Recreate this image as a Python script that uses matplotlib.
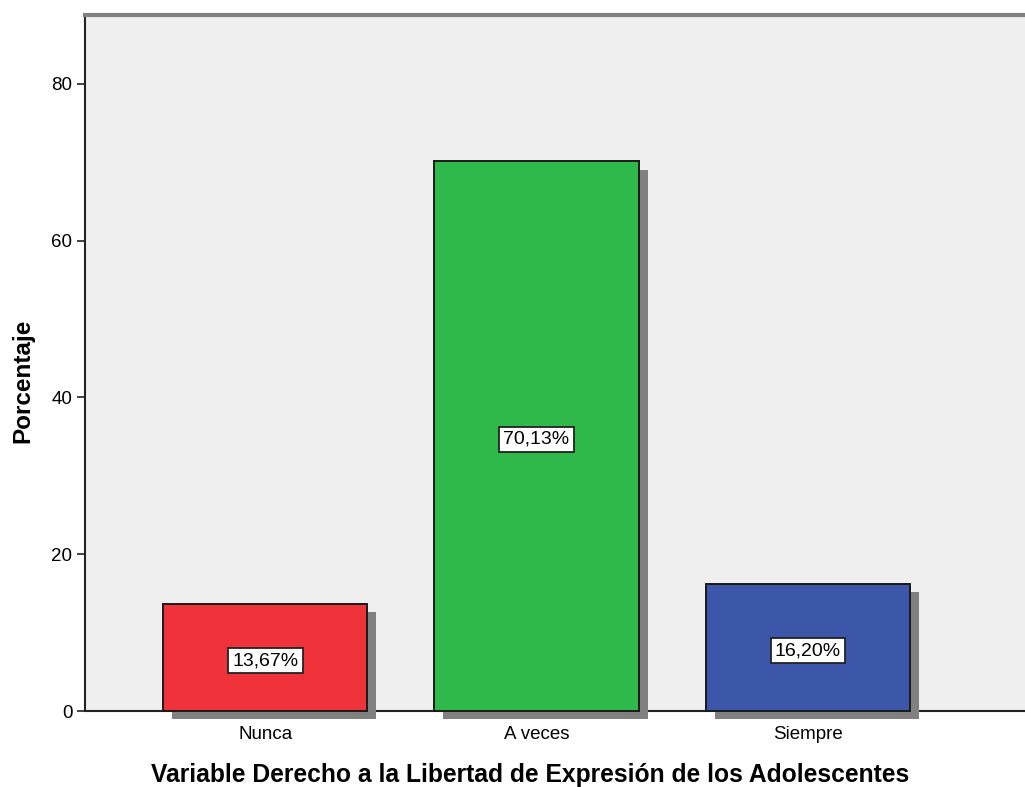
import matplotlib
matplotlib.use("Agg")
import matplotlib.pyplot as plt
import matplotlib.patheffects as pe

categories = ["Nunca", "A veces", "Siempre"]
values = [13.67, 70.13, 16.20]
labels = ["13,67%", "70,13%", "16,20%"]
colors = ["#F0323A", "#2FB94A", "#3C56A9"]

plt.rcParams['font.family'] = ['Liberation Sans', 'DejaVu Sans']

fig = plt.figure(figsize=(10.25, 7.87), dpi=100)
ax = fig.add_axes([85/1025, 1-711/787, (1025-85)/1025, (711-15)/787])
ax.set_facecolor("#EFEFEF")

x = list(range(len(categories)))
bars = ax.bar(x, values, width=0.753, color=colors, edgecolor="#1a1a1a",
              linewidth=1.4, zorder=3, clip_on=False)
for b in bars:
    b.set_path_effects([pe.SimplePatchShadow(offset=(6.5, -6), shadow_rgbFace="#808080", alpha=1.0),
                        pe.Normal()])

for xi, v, lab in zip(x, values, labels):
    ax.text(xi, v/2 - 0.4, lab, ha="center", va="center", fontsize=14, zorder=5,
            bbox=dict(boxstyle="square,pad=0.22", fc="white", ec="#222222", lw=1.3))

ax.set_xlim(-0.664, 2.80)
ax.set_ylim(0, 88.8)
ax.set_yticks([0, 20, 40, 60, 80])
ax.set_xticks(x)
ax.set_xticklabels(categories)
ax.tick_params(axis="y", length=6, width=1.3, labelsize=13.5, color="#333333", pad=3)
ax.tick_params(axis="x", length=3, width=1, labelsize=13.5, color="#555555", pad=8)

ax.spines["right"].set_visible(False)
ax.spines["top"].set_color("#808080")
ax.spines["top"].set_linewidth(3)
ax.spines["left"].set_color("#222222")
ax.spines["left"].set_linewidth(1.5)
ax.spines["bottom"].set_color("#222222")
ax.spines["bottom"].set_linewidth(1.5)
ax.spines["bottom"].set_zorder(2)

ax.set_ylabel("Porcentaje", fontsize=17.5, fontweight="bold")
ax.yaxis.set_label_coords(-(85-34)/940, (711-381)/696)
ax.set_xlabel("Variable Derecho a la Libertad de Expresión de los Adolescentes",
              fontsize=17.7, fontweight="bold")
ax.xaxis.set_label_coords((530-85)/940, -(763-711)/696)

fig.savefig("out.png", dpi=100)
